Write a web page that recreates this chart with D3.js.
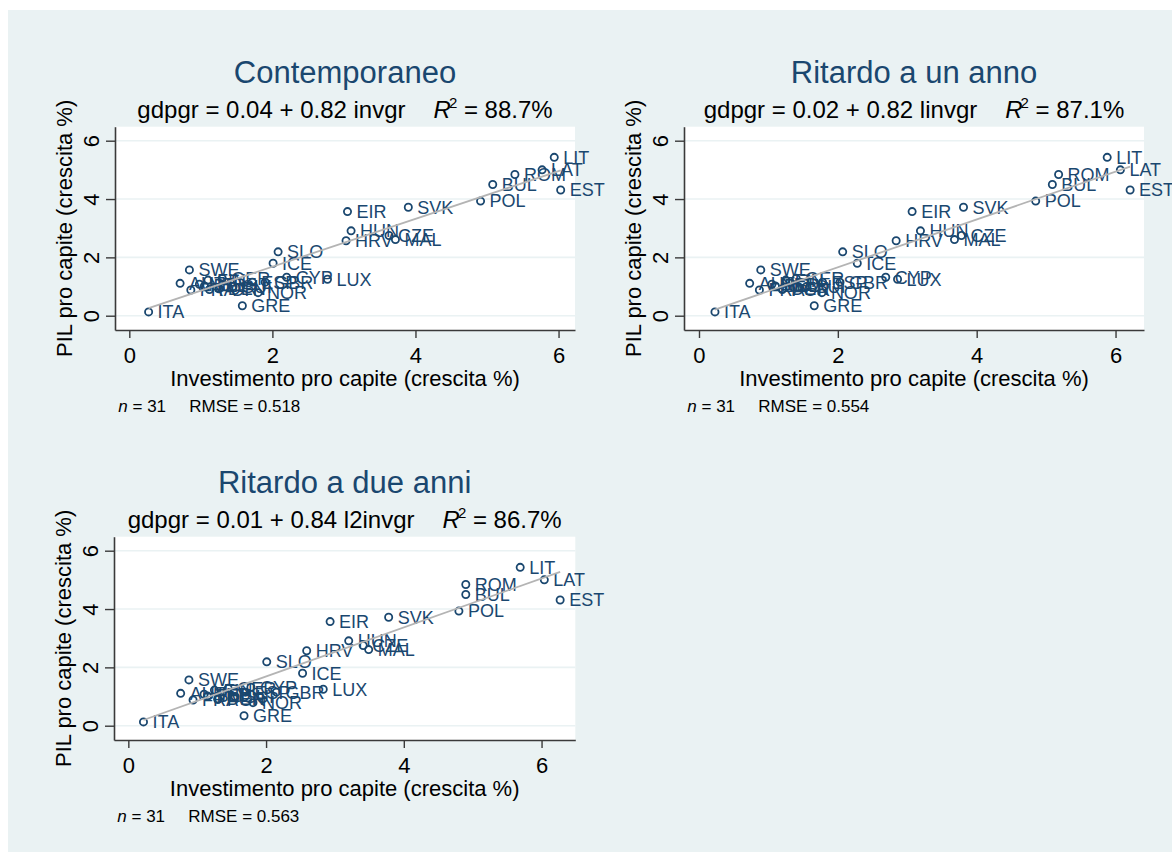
<!DOCTYPE html>
<html>
<head>
<meta charset="utf-8">
<script src="https://cdn.jsdelivr.net/npm/d3@7"></script>
<style>
  body { margin: 0; background: #ffffff; }
  text { font-family: "Liberation Sans", Arial, sans-serif; }
</style>
</head>
<body>
<div id="app"></div>
<script>
// country codes, in the same order as every value array below
const countries = ["AUT", "BEL", "BUL", "CYP", "CZE", "DEN", "EST", "FIN", "FRA", "GER", "GRE",
    "HUN", "EIR", "ITA", "LAT", "LIT", "LUX", "MAL", "NED", "POL", "POR", "ROM",
    "SVK", "SLO", "ESP", "SWE", "GBR", "HRV", "ICE", "NOR", "SUI"];

// PIL pro capite, crescita %
const gdpgr = [1.11, 1.02, 4.50, 1.32, 2.75, 0.92, 4.31, 1.22, 0.88, 1.28, 0.34,
    2.91, 3.57, 0.13, 5.00, 5.43, 1.25, 2.61, 1.08, 3.93, 0.90, 4.84,
    3.72, 2.19, 1.15, 1.57, 1.15, 2.57, 1.80, 0.79, 1.00];

// investimento pro capite, contemporaneo
const invgr = [0.71, 1.05, 5.08, 2.20, 3.63, 1.25, 6.03, 1.10, 0.86, 1.30, 1.58,
    3.10, 3.05, 0.27, 5.77, 5.94, 2.77, 3.72, 0.98, 4.91, 1.12, 5.39,
    3.90, 2.08, 1.72, 0.84, 1.90, 3.03, 2.01, 1.80, 1.45];

// ritardo a un anno
const linvgr = [0.73, 1.10, 5.09, 2.69, 3.78, 1.20, 6.21, 1.25, 0.87, 1.40, 1.66,
    3.19, 3.07, 0.23, 6.07, 5.88, 2.86, 3.68, 1.05, 4.85, 1.20, 5.18,
    3.81, 2.07, 1.78, 0.89, 2.03, 2.84, 2.28, 1.77, 1.55];

// ritardo a due anni
const l2invgr = [0.76, 1.15, 4.90, 1.78, 3.41, 1.30, 6.27, 1.25, 0.94, 1.45, 1.68,
    3.20, 2.93, 0.22, 6.04, 5.69, 2.83, 3.49, 1.10, 4.80, 1.30, 4.90,
    3.78, 2.01, 1.70, 0.88, 2.15, 2.59, 2.53, 1.81, 1.55];

const titles = ["Contemporaneo", "Ritardo a un anno", "Ritardo a due anni"];
const regressorNames = ["invgr", "linvgr", "l2invgr"];
const fitIntercepts = [0.04, 0.02, 0.01];
const fitSlopes = [0.82, 0.82, 0.84];
const r2Labels = ["88.7%", "87.1%", "86.7%"];
const rmseLabels = ["0.518", "0.554", "0.563"];
const nObs = 31;

const xTicks = [0, 2, 4, 6];
const yTicks = [0, 2, 4, 6];
const xTitle = "Investimento pro capite (crescita %)";
const yTitle = "PIL pro capite (crescita %)";

// layout
const W = 1172;
const H = 862;
const bgColor = "#eaf2f3";
const navy = "#1a476f";
const axisColor = "#3a3a3a";

const panels = [
    {left: 115, right: 575, top: 126.7, bottom: 330, xDomain: [-0.2, 6.23]},
    {left: 684, right: 1144, top: 126.7, bottom: 330, xDomain: [-0.216, 6.41]},
    {left: 114, right: 575.3, top: 536.7, bottom: 740, xDomain: [-0.208, 6.49]}
];
const yDomain = [-0.49, 6.48];

const fmt2 = d3.format(".2f");
const tickFmt = d3.format("d");

const svg = d3.select("#app")
    .append("svg")
    .attr("width", W)
    .attr("height", H);

svg.append("rect")
    .attr("x", 8)
    .attr("y", 10)
    .attr("width", W - 8)
    .attr("height", H - 20)
    .style("fill", bgColor);

function drawPanel(i, xValues) {
    const p = panels[i];
    const cx = (p.left + p.right) / 2;

    const x = d3.scaleLinear().domain(p.xDomain).range([p.left, p.right]);
    const y = d3.scaleLinear().domain(yDomain).range([p.bottom, p.top]);

    const g = svg.append("g");

    //PLOT REGION
    g.append("rect")
        .attr("x", p.left)
        .attr("y", p.top)
        .attr("width", p.right - p.left)
        .attr("height", p.bottom - p.top)
        .style("fill", "#ffffff");

    //GRID
    g.selectAll(".grid")
        .data(yTicks)
        .enter()
        .append("line")
        .attr("x1", p.left)
        .attr("x2", p.right)
        .attr("y1", d => y(d))
        .attr("y2", d => y(d))
        .style("stroke", bgColor)
        .style("stroke-width", 1.6);

    //AXES
    const xAxis = g.append("g")
        .attr("transform", "translate(0," + p.bottom + ")")
        .call(d3.axisBottom(x).tickValues(xTicks).tickFormat(tickFmt).tickSize(8).tickSizeOuter(0));
    xAxis.selectAll("text")
        .attr("y", 33)
        .attr("dy", 0)
        .style("font-size", "22px")
        .style("fill", "#000");

    const yAxis = g.append("g")
        .attr("transform", "translate(" + p.left + ",0)")
        .call(d3.axisLeft(y).tickValues(yTicks).tickFormat(tickFmt).tickSize(9).tickSizeOuter(0));
    yAxis.selectAll("text")
        .attr("x", 0)
        .attr("y", -16.5)
        .attr("dy", 0)
        .attr("transform", "rotate(-90)")
        .attr("text-anchor", "middle")
        .style("font-size", "22px")
        .style("fill", "#000");

    [xAxis, yAxis].forEach(function (a) {
        a.select(".domain").style("stroke", axisColor).style("stroke-width", 1.6);
        a.selectAll(".tick line").style("stroke", axisColor).style("stroke-width", 1.4);
    });

    //AXIS TITLES
    g.append("text")
        .attr("x", cx)
        .attr("y", p.bottom + 56)
        .attr("text-anchor", "middle")
        .style("font-size", "22px")
        .text(xTitle);

    g.append("text")
        .attr("transform", "translate(" + (p.left - 43.3) + "," + ((p.top + p.bottom) / 2) + ") rotate(-90)")
        .attr("text-anchor", "middle")
        .style("font-size", "22px")
        .text(yTitle);

    //NOTE
    const note = g.append("text")
        .attr("x", p.left + 3.3)
        .attr("y", p.bottom + 81.7)
        .style("font-size", "17px");
    note.append("tspan").style("font-style", "italic").text("n");
    note.append("tspan").text(" = " + nObs);
    g.append("text")
        .attr("x", p.left + 74.3)
        .attr("y", p.bottom + 81.7)
        .style("font-size", "17px")
        .text("RMSE = " + rmseLabels[i]);

    //TITLES
    g.append("text")
        .attr("x", cx)
        .attr("y", p.top - 43.4)
        .attr("text-anchor", "middle")
        .style("font-size", "31px")
        .style("fill", navy)
        .text(titles[i]);

    const sub = g.append("text")
        .attr("x", cx)
        .attr("y", p.top - 8.4)
        .attr("text-anchor", "middle")
        .style("font-size", "24px")
        .style("fill", "#000");
    sub.append("tspan")
        .text("gdpgr = " + fmt2(fitIntercepts[i]) + " + " + fmt2(fitSlopes[i]) + " " + regressorNames[i]);
    sub.append("tspan")
        .attr("dx", 28)
        .style("font-style", "italic")
        .text("R");
    sub.append("tspan")
        .attr("dx", -2)
        .attr("dy", -10)
        .style("font-size", "15px")
        .text("2");
    sub.append("tspan")
        .attr("dy", 10)
        .text(" = " + r2Labels[i]);

    const points = countries.map(function (c, k) {
        return {name: c, x: xValues[k], y: gdpgr[k]};
    });

    //POINTS
    g.selectAll(".pt")
        .data(points)
        .enter()
        .append("circle")
        .attr("cx", d => x(d.x))
        .attr("cy", d => y(d.y))
        .attr("r", 3.6)
        .style("fill", "none")
        .style("stroke", navy)
        .style("stroke-width", 1.8);

    g.selectAll(".lbl")
        .data(points)
        .enter()
        .append("text")
        .attr("x", d => x(d.x) + 9)
        .attr("y", d => y(d.y) + 6.4)
        .style("font-size", "18px")
        .style("fill", navy)
        .text(d => d.name);

    //FITTED LINE
    const xExt = d3.extent(xValues);
    g.append("line")
        .attr("x1", x(xExt[0]))
        .attr("y1", y(fitIntercepts[i] + fitSlopes[i] * xExt[0]))
        .attr("x2", x(xExt[1]))
        .attr("y2", y(fitIntercepts[i] + fitSlopes[i] * xExt[1]))
        .style("stroke", "#b4b4b4")
        .style("stroke-width", 1.8);
}

drawPanel(0, invgr);
drawPanel(1, linvgr);
drawPanel(2, l2invgr);
</script>
</body>
</html>
